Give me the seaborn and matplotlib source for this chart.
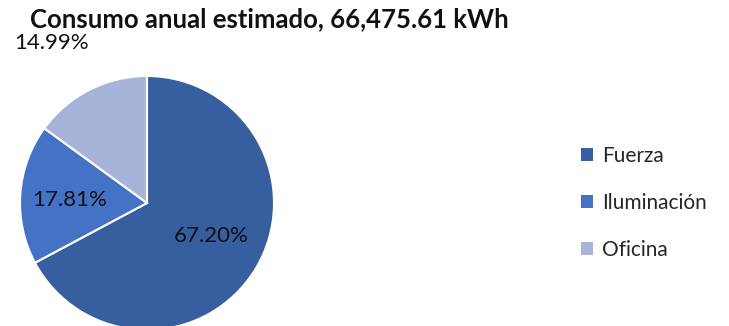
import matplotlib
matplotlib.use("Agg")
import matplotlib.pyplot as plt
import seaborn as sns
import numpy as np

# Annual consumption breakdown
categorias = ["Fuerza", "Iluminación", "Oficina"]
porcentajes = [67.20, 17.81, 14.99]
colores = ["#375E9F", "#4472C4", "#A7B4DA"]
titulo = "Consumo anual estimado, 66,475.61 kWh"

sns.set_theme(style="white")
plt.rcParams["font.family"] = ["Lato", "DejaVu Sans"]

palette = sns.color_palette(colores)

fig = plt.figure(figsize=(7.29, 3.26), dpi=100)
W, H = 729, 326
cx, cy, r = 147, 203, 127
ax = fig.add_axes([(cx - r) / W, (H - cy - r) / H, 2 * r / W, 2 * r / H])

wedges, texts, autotexts = ax.pie(
    porcentajes, colors=palette, startangle=90, counterclock=False,
    autopct=lambda p: f"{p:.2f}%", pctdistance=0.6,
    wedgeprops=dict(edgecolor="white", linewidth=1.5),
    textprops=dict(fontsize=16, color="#111111"),
)
# Label placement: two inside their slices, the small one outside
label_pos = [(0.504, -0.256), (-0.606, 0.02), (-0.748, 1.262)]
for t, pos in zip(autotexts, label_pos):
    t.set_position(pos)
    t.set_clip_on(False)
ax.set_xlim(-1, 1)
ax.set_ylim(-1, 1)
ax.set_aspect("equal")
ax.axis("off")

fig.text(30 / W, 1 - 27.5 / H, titulo, fontsize=18.5, fontweight="bold",
         ha="left", va="baseline", color="#111111")

leg = fig.legend(wedges, categorias, loc="center left",
                 bbox_to_anchor=(581 / W, 1 - 203 / H), frameon=False,
                 fontsize=15, handlelength=0.58, handleheight=0.58,
                 handletextpad=0.43, labelspacing=1.3,
                 borderpad=0, borderaxespad=0)
for h in leg.legend_handles:
    h.set_edgecolor("none")

fig.savefig("out.png", dpi=100)
